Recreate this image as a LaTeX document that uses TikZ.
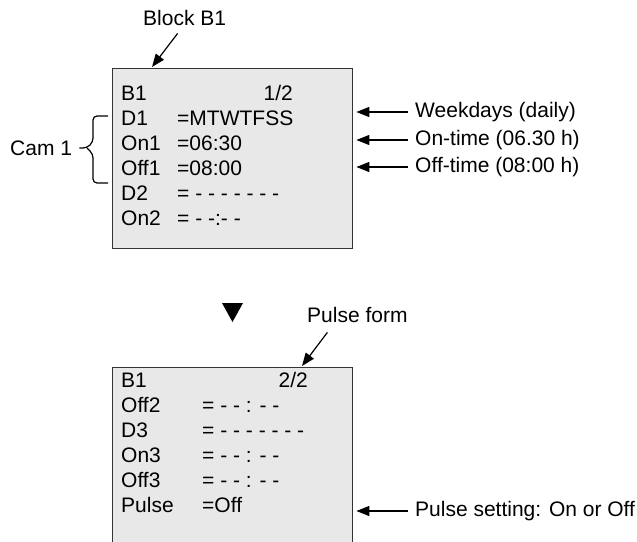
\documentclass[tikz,border=0pt]{standalone}
\usepackage{fontspec}
\setmainfont{Liberation Sans}
\usetikzlibrary{arrows.meta, positioning, calc}
\tikzset{
  panel/.style={
    rectangle, draw=black!80, line width=1.4pt, fill=black!9,
    minimum width=240pt, minimum height=180pt, anchor=north west,
    inner sep=0pt
  },
  arrow/.style={-{Triangle[length=13pt,width=10pt]}, line width=1.2pt}
}

\begin{document}
\begin{tikzpicture}[x=1pt, y=-1pt, font=\fontsize{21}{25}\selectfont,
  txt/.style={anchor=base west, inner sep=0pt},
  note/.style={anchor=west, inner sep=0pt}]
  \clip (0,0) rectangle (637,541);
  \node[panel] (top) at (112,68) {};
  \node[panel] (bot) at (112,367) {};

  \node[txt] (t0) at (121,100) {B1};
  \node[anchor=base east, inner sep=0pt] (tpg) at (293,100) {1/2};
  \foreach \k/\v [count=\i] in {D1/=MTWTFSS, On1/=06:30, Off1/=08:00,
      D2/= - - - - - - -, On2/= - -:- -} {
    \node[txt] (tk\i) at (121,100+25*\i) {\k};
    \node[txt] (tv\i) at (177,100+25*\i) {\v};
  }

  \node[txt] (b0) at (121,387) {B1};
  \node[anchor=base east, inner sep=0pt] (bpg) at (308,387) {2/2};
  \foreach \k/\v [count=\i] in {Off2/= - - : - -, D3/= - - - - - - -,
      On3/= - - : - -, Off3/= - - : - -, Pulse/=Off} {
    \node[txt] (bk\i) at (121,387+25*\i) {\k};
    \node[txt] (bv\i) at (202,387+25*\i) {\v};
  }

  \node[txt] (blk) at (143,25) {Block B1};
  \draw[arrow] ($(blk.south)+(-7,8)$) -- ($(top.north west)+(40,-1)$);

  \node[txt] (pf) at (307,322) {Pulse form};
  \draw[arrow] ($(pf.south)+(-30,10)$) -- ($(bot.north west)+(190,-1)$);

  \node[note] (wd)  at (415,112) {Weekdays (daily)};
  \node[note] (on)  at (415,140) {On-time (06.30 h)};
  \node[note] (off) at (415,167) {Off-time (08:00 h)};
  \node[note] (ps)  at (415,511) {Pulse setting: On or Off};
  \foreach \n/\b in {wd/top, on/top, off/top, ps/bot}
    \draw[arrow] ([xshift=-7pt]\n.west) -- ($(\b.east |- \n.west)+(3,0)$);

  \node[note] (cam) at (10,148) {Cam 1};
  \draw[line width=1.2pt, rounded corners=4pt]
    (108,116) -- (93,116) -- (93,142) -- (87,148) -- ($(cam.east)+(7,0)$);
  \draw[line width=1.2pt, rounded corners=4pt]
    (87,148) -- (93,154) -- (93,183) -- (108,183);

  \fill (222,303) -- (243,303) -- (232.5,322) -- cycle;
\end{tikzpicture}
\end{document}
